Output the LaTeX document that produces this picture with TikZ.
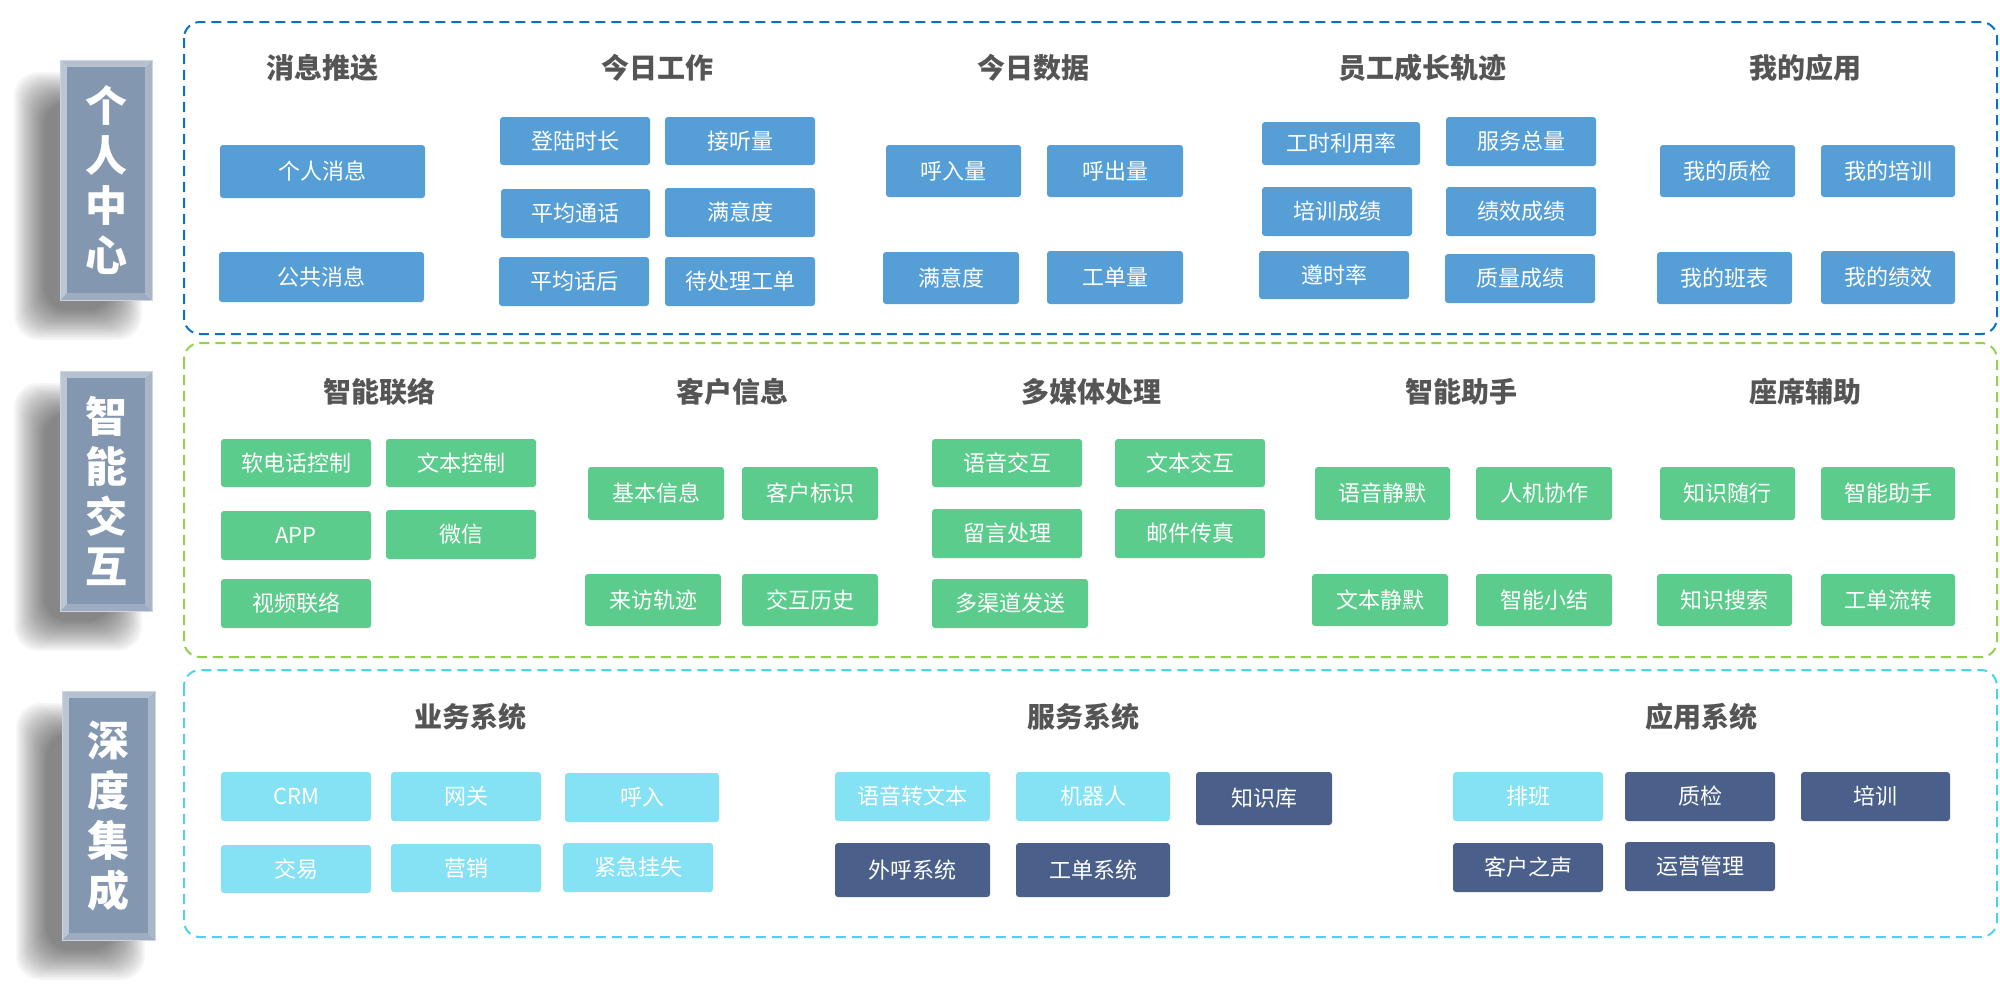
\documentclass[tikz,border=0pt]{standalone}
\usepackage{fontspec}
\setmainfont{Noto Sans CJK SC}
\definecolor{cB}{HTML}{559ED6}
\definecolor{cG}{HTML}{5CCC8C}
\definecolor{cL}{HTML}{84E2F4}
\definecolor{cD}{HTML}{4A5F8A}
\definecolor{hd}{HTML}{555555}
\definecolor{labfill}{HTML}{8497B0}
\definecolor{frB}{HTML}{0E70C2}
\definecolor{frG}{HTML}{92D050}
\definecolor{frC}{HTML}{4DD3EE}
\newcommand\bx[7]{\node[box,fill=#6,minimum width={(#4-#2)*0.5pt},minimum height={(#5-#3)*0.5pt}] (#1) at ({(#2+#4)/2},{(#3+#5)/2}) {#7};}
\newcommand\lab[6]{%
  \foreach \i in {0,...,19}{\fill[black,opacity=0.03,rounded corners=12pt] ({#2-28-(20-\i)*1.6+14},{#3+30-(20-\i)*1.6+14}) rectangle ({#4-28+(20-\i)*1.6-14},{#5+22+(20-\i)*1.6-14});}
  \fill[fill=white] (#2,#3) rectangle (#4,#5);
  \fill[fill=labfill!55!white] (#2,#3) -- (#2,#5) -- ({#2+7},{#5-7}) -- ({#2+7},{#3+7}) -- cycle;
  \fill[fill=labfill!60!white] (#2,#3) -- (#4,#3) -- ({#4-7},{#3+7}) -- ({#2+7},{#3+7}) -- cycle;
  \fill[fill=labfill!70!white] (#4,#3) -- (#4,#5) -- ({#4-7},{#5-7}) -- ({#4-7},{#3+7}) -- cycle;
  \fill[fill=labfill!80!white] (#2,#5) -- (#4,#5) -- ({#4-7},{#5-7}) -- ({#2+7},{#5-7}) -- cycle;
  \fill[fill=labfill] ({#2+7},{#3+7}) rectangle ({#4-7},{#5-7});
  \draw[labfill!40!white,line width=0.5pt] (#2,#3) rectangle (#4,#5);
  \node[labtext] (#1) at ({(#2+#4)/2},{(#3+#5)/2}) {#6};}
\begin{document}
\begin{tikzpicture}[x=0.5pt,y=-0.5pt,
  box/.style={rounded corners=1.5pt, inner sep=0pt, text=white, font=\fontsize{11}{13}\selectfont},
  head/.style={font=\bfseries\fontsize{14}{16}\selectfont, text=hd, inner sep=0pt},
  labtext/.style={font=\bfseries\fontsize{21}{25}\selectfont, text=white, align=center, inner sep=0pt},
  frame/.style={line width=1pt, dash pattern=on 5pt off 3pt, rounded corners=8pt}]
\useasboundingbox (0,0) rectangle (2000,993);
% frames
\draw[frame,frB] (184,22) rectangle (1997,334);
\draw[frame,frG] (184,343) rectangle (1997,657);
\draw[frame,frC] (184,670) rectangle (1997,937);
% labels
\lab{L1}{60}{60}{152}{300}{个\\人\\中\\心}
\lab{L2}{60}{371}{152}{611}{智\\能\\交\\互}
\lab{L3}{62}{691}{155}{940}{深\\度\\集\\成}
% headings
\node[head] (h11) at (322,68) {消息推送};
\node[head] (h12) at (657,68) {今日工作};
\node[head] (h13) at (1033,68) {今日数据};
\node[head] (h14) at (1422,68) {员工成长轨迹};
\node[head] (h15) at (1805,68) {我的应用};
\node[head] (h21) at (379,392) {智能联络};
\node[head] (h22) at (732,392) {客户信息};
\node[head] (h23) at (1091,392) {多媒体处理};
\node[head] (h24) at (1461,392) {智能助手};
\node[head] (h25) at (1805,392) {座席辅助};
\node[head] (h31) at (470,717) {业务系统};
\node[head] (h32) at (1083,717) {服务系统};
\node[head] (h33) at (1701,717) {应用系统};
% row 1
\bx{m1}{220}{145}{425}{198}{cB}{个人消息}
\bx{m2}{219}{252}{424}{302}{cB}{公共消息}
\bx{w1}{500}{117}{650}{165}{cB}{登陆时长}
\bx{w2}{665}{117}{815}{165}{cB}{接听量}
\bx{w3}{501}{189}{650}{238}{cB}{平均通话}
\bx{w4}{665}{188}{815}{237}{cB}{满意度}
\bx{w5}{499}{257}{649}{306}{cB}{平均话后}
\bx{w6}{665}{257}{815}{306}{cB}{待处理工单}
\bx{d1}{886}{145}{1021}{197}{cB}{呼入量}
\bx{d2}{1047}{145}{1183}{197}{cB}{呼出量}
\bx{d3}{883}{252}{1019}{304}{cB}{满意度}
\bx{d4}{1047}{251}{1183}{304}{cB}{工单量}
\bx{g1}{1262}{122}{1420}{165}{cB}{工时利用率}
\bx{g2}{1446}{117}{1596}{166}{cB}{服务总量}
\bx{g3}{1262}{187}{1412}{236}{cB}{培训成绩}
\bx{g4}{1446}{187}{1596}{236}{cB}{绩效成绩}
\bx{g5}{1259}{251}{1409}{299}{cB}{遵时率}
\bx{g6}{1445}{254}{1595}{303}{cB}{质量成绩}
\bx{a1}{1660}{145}{1795}{197}{cB}{我的质检}
\bx{a2}{1821}{145}{1955}{197}{cB}{我的培训}
\bx{a3}{1657}{252}{1792}{304}{cB}{我的班表}
\bx{a4}{1821}{251}{1955}{304}{cB}{我的绩效}
% row 2
\bx{l1}{221}{439}{371}{487}{cG}{软电话控制}
\bx{l2}{386}{439}{536}{487}{cG}{文本控制}
\bx{l3}{221}{511}{371}{560}{cG}{APP}
\bx{l4}{386}{510}{536}{559}{cG}{微信}
\bx{l5}{221}{579}{371}{628}{cG}{视频联络}
\bx{c1}{588}{467}{724}{520}{cG}{基本信息}
\bx{c2}{742}{467}{878}{520}{cG}{客户标识}
\bx{c3}{585}{574}{721}{626}{cG}{来访轨迹}
\bx{c4}{742}{574}{878}{626}{cG}{交互历史}
\bx{p1}{932}{439}{1082}{487}{cG}{语音交互}
\bx{p2}{1115}{439}{1265}{487}{cG}{文本交互}
\bx{p3}{932}{509}{1082}{558}{cG}{留言处理}
\bx{p4}{1115}{509}{1265}{558}{cG}{邮件传真}
\bx{p5}{932}{579}{1088}{628}{cG}{多渠道发送}
\bx{s1}{1315}{467}{1450}{520}{cG}{语音静默}
\bx{s2}{1476}{467}{1612}{520}{cG}{人机协作}
\bx{s3}{1312}{574}{1448}{626}{cG}{文本静默}
\bx{s4}{1476}{574}{1612}{626}{cG}{智能小结}
\bx{z1}{1660}{467}{1795}{520}{cG}{知识随行}
\bx{z2}{1821}{467}{1955}{520}{cG}{智能助手}
\bx{z3}{1657}{574}{1792}{626}{cG}{知识搜索}
\bx{z4}{1821}{574}{1955}{626}{cG}{工单流转}
% row 3
\bx{b1}{221}{772}{371}{821}{cL}{CRM}
\bx{b2}{391}{772}{541}{821}{cL}{网关}
\bx{b3}{565}{773}{719}{822}{cL}{呼入}
\bx{b4}{221}{845}{371}{893}{cL}{交易}
\bx{b5}{391}{844}{541}{892}{cL}{营销}
\bx{b6}{563}{843}{713}{892}{cL}{紧急挂失}
\bx{v1}{835}{772}{990}{821}{cL}{语音转文本}
\bx{v2}{1016}{772}{1170}{821}{cL}{机器人}
\bx{v3}{1196}{772}{1332}{825}{cD}{知识库}
\bx{v4}{835}{843}{990}{897}{cD}{外呼系统}
\bx{v5}{1016}{843}{1170}{897}{cD}{工单系统}
\bx{y1}{1453}{772}{1603}{821}{cL}{排班}
\bx{y2}{1625}{772}{1775}{821}{cD}{质检}
\bx{y3}{1801}{772}{1950}{821}{cD}{培训}
\bx{y4}{1453}{843}{1603}{892}{cD}{客户之声}
\bx{y5}{1625}{842}{1775}{891}{cD}{运营管理}
\end{tikzpicture}
\end{document}
